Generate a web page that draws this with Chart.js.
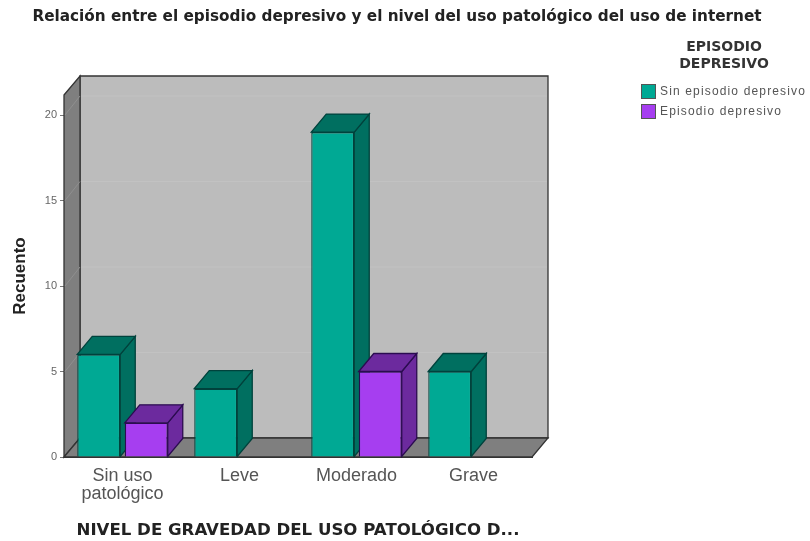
<!DOCTYPE html>
<html>
<head>
<meta charset="utf-8">
<title>Episodio depresivo</title>
<script src="https://cdn.jsdelivr.net/npm/chart.js@4"></script>
<style>
  html, body { margin: 0; padding: 0; background: #fff; }
  canvas { display: block; }
</style>
</head>
<body>
<canvas id="chart" width="810" height="541"></canvas>
<script>
// Chart data
const categories = [['Sin uso', 'patológico'], 'Leve', 'Moderado', 'Grave'];
const sinEpisodio = [6, 4, 19, 5];
const conEpisodio = [2, null, 5, null];
const yTicks = [0, 5, 10, 15, 20];

const chartTitle = 'Relación entre el episodio depresivo y el nivel del uso patológico del uso de internet';
const xTitle = 'NIVEL DE GRAVEDAD DEL USO PATOLÓGICO D...';
const yTitle = 'Recuento';
const legendTitle = ['EPISODIO', 'DEPRESIVO'];

const FONT = '"Liberation Sans", Arial, sans-serif';
const WIDE_FONT = '"DejaVu Sans", Verdana, sans-serif';

// Colors: front, top and side faces, then the outline
const GREEN = { front: '#00a994', shade: '#006f60', edge: '#00423c' };
const PURPLE = { front: '#a63ef0', shade: '#6c2a9e', edge: '#2b0c50' };
const WALL = '#bcbcbc';
const SIDE_WALL = '#7f7f7f';
const WALL_GRID = '#c2c2c2';
const SIDE_GRID = '#8f8f8f';
const FRAME = '#333333';

// How far the room and the boxes recede
const ROOM_DEPTH = { x: 16, y: -19 };
const BAR_DEPTH = { x: 15, y: -18 };

function polygon(ctx, points, fill, stroke) {
    ctx.beginPath();
    points.forEach((p, i) => i ? ctx.lineTo(p[0], p[1]) : ctx.moveTo(p[0], p[1]));
    ctx.closePath();
    ctx.fillStyle = fill;
    ctx.fill();
    if (stroke) {
        ctx.strokeStyle = stroke;
        ctx.lineWidth = 1.3;
        ctx.stroke();
    }
}

// Back wall, left wall, floor, then the top and side of every bar
const room3d = {
    id: 'room3d',
    beforeDatasetsDraw(chart) {
        const { ctx, chartArea: a, scales } = chart;
        const dx = ROOM_DEPTH.x, dy = ROOM_DEPTH.y;
        ctx.save();
        polygon(ctx, [[a.left + dx, a.top + dy], [a.right + dx, a.top + dy],
            [a.right + dx, a.bottom + dy], [a.left + dx, a.bottom + dy]], WALL, FRAME);
        polygon(ctx, [[a.left, a.top], [a.left + dx, a.top + dy],
            [a.left + dx, a.bottom + dy], [a.left, a.bottom]], SIDE_WALL, FRAME);
        polygon(ctx, [[a.left, a.bottom], [a.left + dx, a.bottom + dy],
            [a.right + dx, a.bottom + dy], [a.right, a.bottom]], SIDE_WALL, FRAME);

        // grid lines run along the walls
        yTicks.slice(1).forEach(v => {
            const y = scales.y.getPixelForValue(v);
            ctx.lineWidth = 1;
            ctx.strokeStyle = SIDE_GRID;
            ctx.beginPath();
            ctx.moveTo(a.left + 1, y);
            ctx.lineTo(a.left + dx, y + dy);
            ctx.stroke();
            ctx.strokeStyle = WALL_GRID;
            ctx.beginPath();
            ctx.moveTo(a.left + dx + 1, y + dy);
            ctx.lineTo(a.right + dx - 1, y + dy);
            ctx.stroke();
        });

        chart.data.datasets.forEach((ds, i) => {
            const colors = i === 0 ? GREEN : PURPLE;
            chart.getDatasetMeta(i).data.forEach((bar, j) => {
                if (ds.data[j] == null) return;
                const half = bar.width / 2;
                const l = bar.x - half, r = bar.x + half;
                const t = bar.y, b = bar.base;
                const ox = BAR_DEPTH.x, oy = BAR_DEPTH.y;
                polygon(ctx, [[r, t], [r + ox, t + oy], [r + ox, b + oy], [r, b]], colors.shade, colors.edge);
                polygon(ctx, [[l, t], [l + ox, t + oy], [r + ox, t + oy], [r, t]], colors.shade, colors.edge);
            });
        });
        ctx.restore();
    }
};

// Legend in the upper right corner, with its two line heading
const sideLegend = {
    id: 'sideLegend',
    afterDraw(chart) {
        const { ctx } = chart;
        ctx.save();
        ctx.textBaseline = 'middle';
        ctx.fillStyle = '#333';
        ctx.textAlign = 'center';
        ctx.font = 'bold 14px ' + WIDE_FONT;
        legendTitle.forEach((line, i) => ctx.fillText(line, 724, 47 + i * 17));

        ctx.textAlign = 'left';
        ctx.font = '12px ' + FONT;
        ctx.letterSpacing = '1.15px';
        chart.data.datasets.forEach((ds, i) => {
            const y = 84 + i * 20;
            ctx.fillStyle = ds.backgroundColor;
            ctx.strokeStyle = '#555';
            ctx.lineWidth = 1;
            ctx.fillRect(641.5, y + 0.5, 14, 14);
            ctx.strokeRect(641.5, y + 0.5, 14, 14);
            ctx.fillStyle = '#555';
            ctx.fillText(ds.label, 660, y + 7.5);
        });
        ctx.restore();
    }
};

new Chart(document.getElementById('chart'), {
    type: 'bar',
    plugins: [room3d, sideLegend],
    data: {
        labels: categories,
        datasets: [
            {
                label: 'Sin episodio depresivo',
                data: sinEpisodio,
                backgroundColor: GREEN.front,
                borderColor: GREEN.edge,
                borderWidth: 1.3
            },
            {
                label: 'Episodio depresivo',
                data: conEpisodio,
                backgroundColor: PURPLE.front,
                borderColor: PURPLE.edge,
                borderWidth: 1.3
            }
        ]
    },
    options: {
        responsive: false,
        animation: false,
        categoryPercentage: 0.812,
        barPercentage: 0.905,
        layout: { padding: { left: 10, right: 26, top: 0, bottom: 0 } },
        plugins: {
            legend: { display: false },
            tooltip: { enabled: false },
            title: {
                display: true,
                text: chartTitle,
                color: '#222',
                font: { family: WIDE_FONT, size: 15.25, weight: 'bold', lineHeight: 1.2 },
                padding: { top: 8, bottom: 68.7 }
            }
        },
        scales: {
            x: {
                grid: { display: false },
                border: { color: FRAME },
                ticks: {
                    color: '#555',
                    font: { family: FONT, size: 18, lineHeight: 1 },
                    padding: 2,
                    maxRotation: 0,
                    autoSkip: false
                },
                title: {
                    display: true,
                    text: xTitle,
                    color: '#222',
                    font: { family: WIDE_FONT, size: 16.6, weight: 'bold' },
                    padding: { top: 0, bottom: 0 }
                },
                afterFit(scale) { scale.height = 84; }
            },
            y: {
                min: 0,
                max: 21.17,
                border: { color: FRAME },
                grid: { drawOnChartArea: false, tickLength: 4, color: '#777' },
                ticks: {
                    stepSize: 5,
                    includeBounds: false,
                    color: '#666',
                    font: { family: FONT, size: 11 },
                    padding: 3
                },
                title: {
                    display: true,
                    text: yTitle,
                    color: '#222',
                    font: { family: FONT, size: 17, weight: 'bold' },
                    padding: 0
                },
                afterFit(scale) { scale.width = 54; }
            },
            // empty axis that keeps the right side free for the legend
            spacer: {
                position: 'right',
                border: { display: false },
                grid: { display: false },
                ticks: { display: false },
                afterFit(scale) { scale.width = 252; }
            }
        }
    }
});
</script>
</body>
</html>
